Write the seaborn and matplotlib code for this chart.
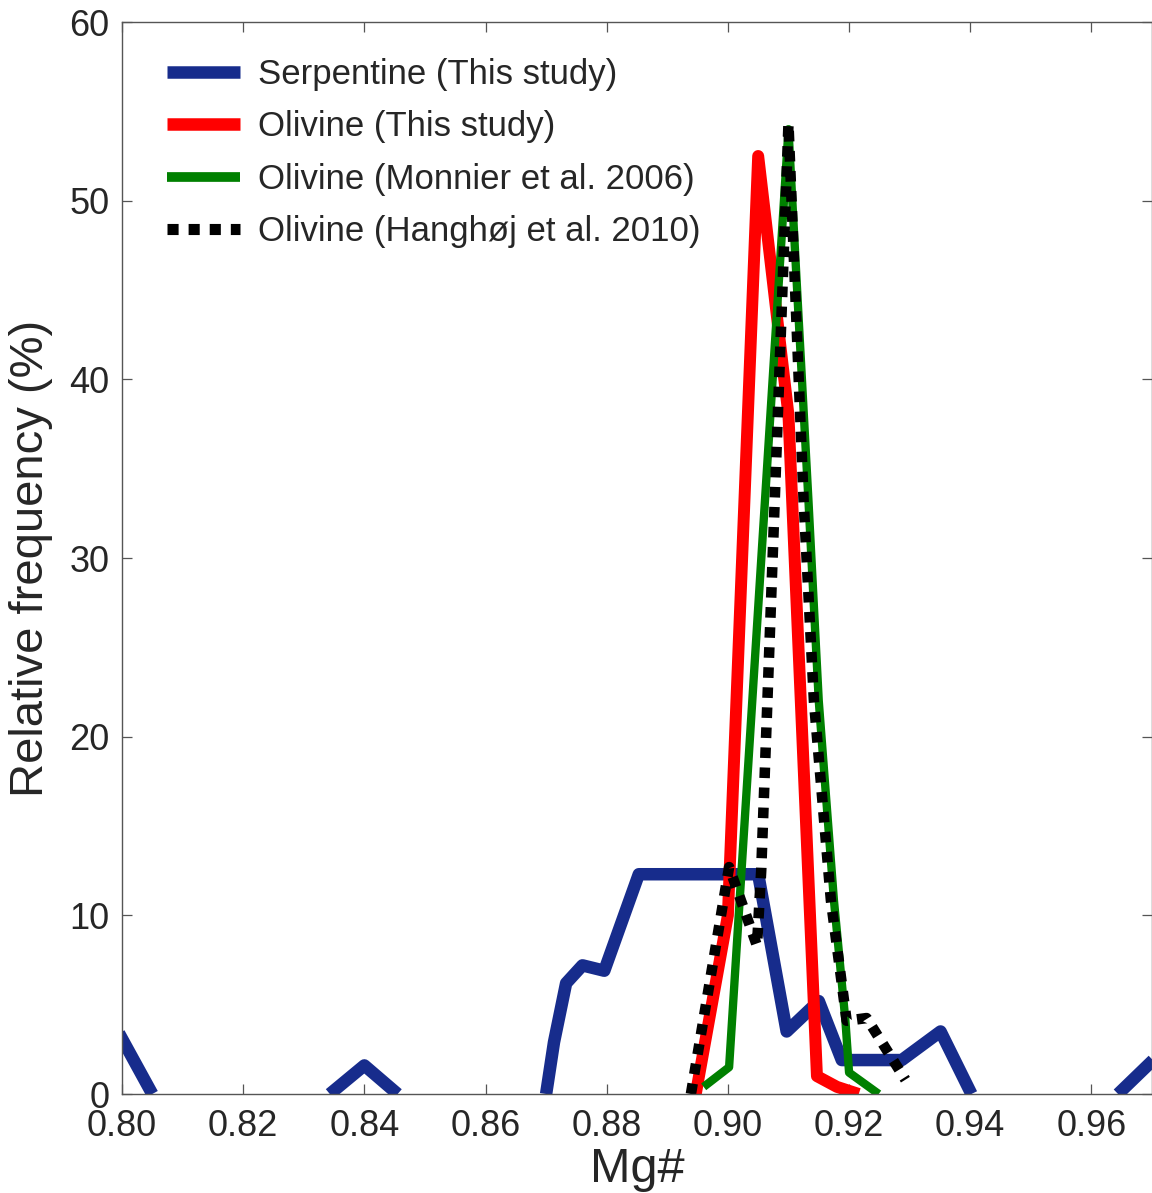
import matplotlib
matplotlib.use('Agg')
import matplotlib.pyplot as plt
from matplotlib.lines import Line2D
import seaborn as sns
import pandas as pd

# Serpentine (this study), broken into segments where frequency drops to zero
serp_seg = [0, 0,
            1, 1, 1,
            2, 2, 2, 2, 2, 2, 2, 2, 2, 2, 2, 2, 2,
            3, 3]
serp_x = [0.7995, 0.805,
          0.8343, 0.840, 0.8455,
          0.870, 0.8713, 0.8733, 0.876, 0.8796, 0.8853, 0.905, 0.9097, 0.915,
          0.9188, 0.9287, 0.9351, 0.9402,
          0.9644, 0.9705]
serp_y = [3.4, 0.0,
          0.0, 1.6, 0.0,
          0.0, 2.9, 6.2, 7.2, 6.9, 12.3, 12.3, 3.5, 5.2,
          1.9, 1.9, 3.5, 0.0,
          0.0, 2.0]

# Olivine (this study)
oliv_x = [0.8947, 0.900, 0.905, 0.910, 0.9147, 0.9180, 0.9216]
oliv_y = [0.0, 10.0, 52.5, 38.0, 1.0, 0.4, 0.0]

# Olivine (Monnier et al. 2006)
monn_x = [0.896, 0.9002, 0.910, 0.9133, 0.915, 0.9175, 0.9194, 0.920, 0.9249]
monn_y = [0.4, 1.5, 54.0, 33.2, 22.0, 10.85, 4.1, 1.2, 0.0]

# Olivine (Hanghøj et al. 2010)
hang_x = [0.8939, 0.9002, 0.9048, 0.9055, 0.910, 0.9125, 0.9142, 0.917,
          0.9196, 0.9229, 0.9293]
hang_y = [0.0, 12.7, 8.3, 12.5, 54.3, 33.2, 22.0, 10.85, 4.1, 4.25, 0.8]

labels = ['Serpentine (This study)', 'Olivine (This study)',
          'Olivine (Monnier et al. 2006)', 'Olivine (Hanghøj et al. 2010)']
colors = ['#172c8c', '#ff0000', '#008000', '#000000']

sns.set_style('ticks')
plt.rcParams['font.family'] = ['Liberation Sans', 'DejaVu Sans']
plt.rcParams['xtick.direction'] = 'in'
plt.rcParams['ytick.direction'] = 'in'

fig = plt.figure(figsize=(11.52, 11.93), dpi=100)
ax = fig.add_axes([122 / 1152, 99 / 1193, 1 - 122 / 1152, (1094 - 22) / 1193])

df_s = pd.DataFrame({'x': serp_x, 'y': serp_y, 'seg': serp_seg})
sns.lineplot(data=df_s, x='x', y='y', units='seg', estimator=None, sort=False,
             color=colors[0], lw=9.0, ax=ax, solid_capstyle='butt',
             solid_joinstyle='round')
sns.lineplot(x=oliv_x, y=oliv_y, sort=False, estimator=None, color=colors[1],
             lw=8.6, ax=ax, solid_capstyle='butt', solid_joinstyle='round')
sns.lineplot(x=monn_x, y=monn_y, sort=False, estimator=None, color=colors[2],
             lw=6.0, ax=ax, solid_capstyle='butt', solid_joinstyle='round')
sns.lineplot(x=hang_x, y=hang_y, sort=False, estimator=None, color=colors[3],
             lw=7.6, ax=ax, dashes=False)
ax.lines[-1].set_dashes((1.0, 0.9))
ax.lines[-1].set_dash_capstyle('butt')

ax.set_xlim(0.80, 0.97)
ax.set_ylim(0, 60)
ax.set_xticks([0.80, 0.82, 0.84, 0.86, 0.88, 0.90, 0.92, 0.94, 0.96])
ax.set_xticklabels(['0.80', '0.82', '0.84', '0.86', '0.88', '0.90', '0.92',
                    '0.94', '0.96'])
ax.set_yticks([0, 10, 20, 30, 40, 50, 60])

for s in ax.spines.values():
    s.set_visible(True)
    s.set_color('#555555')
    s.set_linewidth(1.0)
ax.tick_params(axis='both', which='major', length=7, width=0.9,
               color='#555555', labelsize=26, labelcolor='#262626',
               top=True, right=True)
ax.tick_params(axis='y', pad=9)
ax.tick_params(axis='x', pad=11)

ax.set_xlabel('Mg#', fontsize=35, color='#262626', labelpad=2)
ax.set_ylabel('Relative frequency (%)', fontsize=34, color='#262626', labelpad=12)

handles = [
    Line2D([], [], color=colors[0], lw=9.0, solid_capstyle='butt'),
    Line2D([], [], color=colors[1], lw=9.0, solid_capstyle='butt'),
    Line2D([], [], color=colors[2], lw=7.0, solid_capstyle='butt'),
    Line2D([], [], color=colors[3], lw=8.0, dashes=(1.0, 0.9),
           dash_capstyle='butt'),
]
leg = ax.legend(handles, labels, loc='upper left', bbox_to_anchor=(0.030, 0.9795),
                frameon=False, fontsize=25, handlelength=2.1, handletextpad=0.52,
                labelspacing=0.56, borderaxespad=0)
for t in leg.get_texts():
    t.set_color('#262626')

fig.savefig('out.png', dpi=100)
